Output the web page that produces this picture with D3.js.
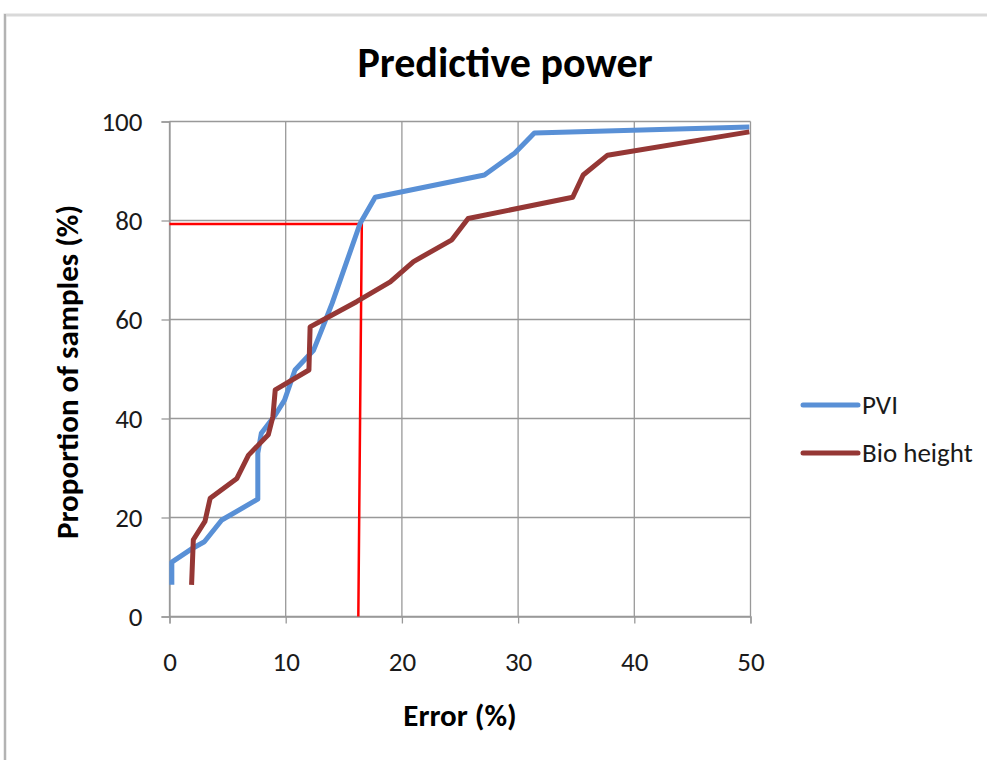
<!DOCTYPE html>
<html>
<head>
<meta charset="utf-8">
<script src="https://cdn.jsdelivr.net/npm/d3@7"></script>
<style>
  body { margin: 0; background: #fff; }
  svg text { font-family: Carlito, "Open Sans", "Liberation Sans", sans-serif; }
</style>
</head>
<body>
<svg id="chart" width="987" height="760"></svg>
<script>
// cumulative error curves
const pviError   = [0.2, 0.2, 2.0, 3.0, 4.5, 7.6, 7.6, 7.9, 9.1, 9.9, 10.8, 12.4, 13.2, 14.0, 16.4, 17.7, 27.1, 29.7, 31.4, 49.9];
const pviShare   = [6.4, 11.0, 13.8, 15.1, 19.5, 23.7, 33.0, 37.0, 40.7, 43.7, 49.8, 53.8, 58.5, 63.3, 79.4, 84.7, 89.2, 93.6, 97.7, 98.9];
const bioError   = [1.9, 2.05, 3.05, 3.5, 5.8, 6.8, 8.5, 8.9, 9.1, 12.0, 12.1, 13.2, 16.1, 19.0, 21.0, 24.3, 25.7, 34.7, 35.6, 37.7, 49.9];
const bioShare   = [6.4, 15.5, 19.2, 23.9, 27.9, 32.6, 36.7, 40.4, 45.8, 49.8, 58.5, 59.9, 63.6, 67.6, 71.7, 76.1, 80.4, 84.7, 89.2, 93.2, 97.9];
// red marker: 80% of samples within ~16.5% error
const markerError = [0, 16.55, 16.25];
const markerShare = [79.3, 79.3, 0];

const xTicks = [0, 10, 20, 30, 40, 50];
const yTicks = [0, 20, 40, 60, 80, 100];
const seriesNames = ["PVI", "Bio height"];
const seriesColors = ["#5990d6", "#953735"];

const svg = d3.select("#chart");

// outer frame
svg.append("rect").attr("x", 5).attr("y", 15).attr("width", 990).attr("height", 760)
  .attr("fill", "#fff").attr("stroke", "#d9d9d9").attr("stroke-width", 3);
svg.append("line").attr("x1", 5).attr("x2", 5).attr("y1", 14).attr("y2", 760)
  .attr("stroke", "#a6a6a6").attr("stroke-width", 1.5);

const x = d3.scaleLinear().domain([0, 50]).range([169.5, 750.5]);
const y = d3.scaleLinear().domain([0, 100]).range([616.5, 121.5]);

// grid
svg.append("g").selectAll("line").data(xTicks).enter().append("line")
  .attr("x1", d => x(d)).attr("x2", d => x(d)).attr("y1", y(100)).attr("y2", y(0))
  .attr("stroke", "#999").attr("stroke-width", 1.3);
svg.append("g").selectAll("line").data(yTicks).enter().append("line")
  .attr("x1", x(0)).attr("x2", x(50)).attr("y1", d => y(d)).attr("y2", d => y(d))
  .attr("stroke", "#999").attr("stroke-width", 1.3);

const xAxis = svg.append("g").attr("transform", "translate(0," + y(0) + ")")
  .call(d3.axisBottom(x).tickValues(xTicks).tickSize(7).tickPadding(28));
const yAxis = svg.append("g").attr("transform", "translate(" + x(0) + ",0)")
  .call(d3.axisLeft(y).tickValues(yTicks).tickSize(8).tickPadding(19));
[xAxis, yAxis].forEach(a => {
  a.selectAll("path,line").attr("stroke", "#999").attr("stroke-width", 1.3);
  a.selectAll("text").attr("font-size", 27).attr("fill", "#1a1a1a")
    .attr("font-family", "Carlito, 'Open Sans', 'Liberation Sans', sans-serif");
});
yAxis.selectAll("text").attr("dy", "0.34em");

const line = d3.line().x(d => x(d[0])).y(d => y(d[1]));
const curves = [d3.zip(pviError, pviShare), d3.zip(bioError, bioShare)];

svg.append("path").datum(d3.zip(markerError, markerShare)).attr("d", line)
  .attr("fill", "none").attr("stroke", "#ff0000").attr("stroke-width", 2.5);

svg.append("g").selectAll("path").data(curves).enter().append("path")
  .attr("d", line).attr("fill", "none")
  .attr("stroke", (d, i) => seriesColors[i]).attr("stroke-width", 5)
  .attr("stroke-linejoin", "round");

// legend
const legend = svg.append("g").selectAll("g").data(seriesNames).enter().append("g")
  .attr("transform", (d, i) => "translate(803," + (405 + i * 48) + ")");
legend.append("line").attr("x1", 0).attr("x2", 55)
  .attr("stroke", (d, i) => seriesColors[i]).attr("stroke-width", 5).attr("stroke-linecap", "round");
legend.append("text").attr("x", 59).attr("dy", "0.35em").attr("font-size", 27).attr("fill", "#1a1a1a")
  .text(d => d);

// titles
svg.append("text").attr("x", 505).attr("y", 77).attr("text-anchor", "middle")
  .attr("font-size", 42).attr("font-weight", "bold").text("Predictive power");
svg.append("text").attr("x", 460).attr("y", 726).attr("text-anchor", "middle")
  .attr("font-size", 31).attr("font-weight", "bold").text("Error (%)");
svg.append("text").attr("transform", "translate(78,372) rotate(-90)").attr("text-anchor", "middle")
  .attr("font-size", 31).attr("font-weight", "bold").text("Proportion of samples (%)");
</script>
</body>
</html>
